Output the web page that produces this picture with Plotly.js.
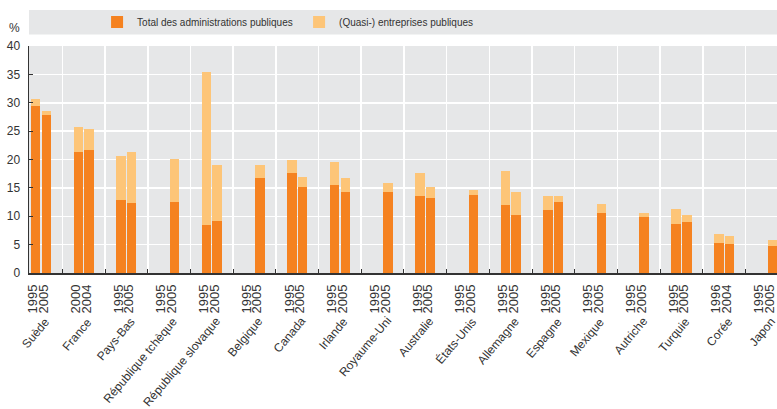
<!DOCTYPE html>
<html><head><meta charset="utf-8">
<script src="https://cdn.plot.ly/plotly-3.0.1.min.js"></script>
<style>html,body{margin:0;padding:0;background:#fff;} #chart{width:777px;height:409px;}</style>
</head><body><div id="chart"></div>
<script>
// ---- data ----
const countries = ["Suède","France","Pays-Bas","République tchèque","République slovaque","Belgique","Canada","Irlande","Royaume-Uni","Australie","États-Unis","Allemagne","Espagne","Mexique","Autriche","Turquie","Corée","Japon"];
const yearA = ["1995","2000","1995","1995","1995","1995","1995","1995","1995","1995","1995","1995","1995","1995","1995","1995","1996","1995"];
const yearB = ["2005","2004","2005","2005","2005","2005","2005","2005","2005","2005","2005","2005","2005","2005","2005","2005","2004","2005"];
// first year shown for each country
const adminA = [29.4, 21.3, 12.8, null, 8.5, null, 17.7, 15.5, null, 13.6, null, 11.9, 11.1, null, null, 8.7, 5.3, null];
const quasiA = [1.2, 4.4, 7.8, null, 27.0, null, 2.2, 4.1, null, 4.1, null, 6.0, 2.5, null, null, 2.6, 1.5, null];
// second year shown for each country
const adminB = [27.9, 21.6, 12.4, 12.6, 9.2, 16.8, 15.2, 14.3, 14.3, 13.3, 13.8, 10.2, 12.6, 10.6, 9.9, 8.9, 5.1, 4.8];
const quasiB = [0.7, 3.7, 8.9, 7.5, 9.9, 2.3, 1.8, 2.5, 1.5, 1.9, 0.8, 4.1, 1.0, 1.5, 0.7, 1.3, 1.4, 1.0];
const legendNames = ["Total des administrations publiques", "(Quasi-) entreprises publiques"];
const yTicks = [0,5,10,15,20,25,30,35,40];

// ---- style ----
const ORANGE = '#F58220', LIGHT = '#FDC578', BG = '#E6E7E8', TXT = '#333333';
const SANS = '"Liberation Sans", Arial, sans-serif';
const OFF = 0.125, BW = 0.22, LABSHIFT = 0.06;
const ML = 29, MT = 46, MB = 136, H = 409, W = 777;
const plotH = H - MB - MT, plotW = W - ML;
const pxToPaperY = py => (H - MB - py) / plotH;

const idx = countries.map((_, i) => i);
const xA = idx.map(i => i - OFF), xB = idx.map(i => i + OFF);
const xs = xA.concat(xB);
const xsLab = xs.map(v => v - LABSHIFT);
const bounds = idx.slice(0, -1).map(i => i + 0.5);
const xr = [-0.281, 17.237];
const dataToPaperX = v => (v - xr[0]) / (xr[1] - xr[0]);

const traces = [
  {type:'bar', name:legendNames[0], x:xs, y:adminA.concat(adminB), width:BW,
   marker:{color:ORANGE, line:{width:0}}, hoverinfo:'y'},
  {type:'bar', name:legendNames[1], x:xs, y:quasiA.concat(quasiB), width:BW,
   marker:{color:LIGHT, line:{width:0}}, hoverinfo:'y'},
  {type:'scatter', x:xsLab, y:xsLab.map(() => 0), xaxis:'x2', mode:'markers',
   marker:{opacity:0}, showlegend:false, hoverinfo:'skip'}
];

const annotations = [
  {text:'%', xref:'paper', yref:'paper', x:(14 - ML) / plotW, y:pxToPaperY(28),
   xanchor:'center', yanchor:'middle', showarrow:false,
   font:{family:SANS, size:12, color:TXT}}
].concat(countries.map((c, i) => ({
  text:c, xref:'paper', yref:'paper', x:dataToPaperX(i + 0.33), y:pxToPaperY(312),
  xanchor:'right', yanchor:'top', textangle:-50, showarrow:false,
  font:{family:SANS, size:12, color:TXT}
})));

const layout = {
  width:W, height:H,
  margin:{l:ML, r:0, t:MT, b:MB, pad:0},
  paper_bgcolor:'#ffffff', plot_bgcolor:BG,
  barmode:'stack', bargap:0,
  showlegend:true,
  legend:{orientation:'h', x:0.091, xanchor:'left', y:pxToPaperY(22), yanchor:'middle',
    bgcolor:'rgba(0,0,0,0)', font:{family:SANS, size:10, color:TXT},
    entrywidth:157, entrywidthmode:'pixels', traceorder:'normal'},
  xaxis:{range:xr, tickvals:bounds, showticklabels:false, ticks:'inside', ticklen:4,
    tickcolor:TXT, tickwidth:1, showgrid:true, gridcolor:'#ffffff', gridwidth:1.5,
    showline:true, linecolor:TXT, linewidth:1.5, zeroline:false, fixedrange:true},
  xaxis2:{overlaying:'x', anchor:'y', side:'bottom', range:xr, tickmode:'array',
    tickvals:xsLab, ticktext:yearA.concat(yearB), tickangle:-90, ticks:'',
    showgrid:false, showline:false, zeroline:false, fixedrange:true,
    ticklabeloverflow:'allow', ticklabelstandoff:8,
    tickfont:{family:SANS, size:13, color:TXT}},
  yaxis:{range:[0,40], tickvals:yTicks, ticks:'inside', ticklen:4, tickcolor:TXT,
    showgrid:true, gridcolor:'#ffffff', gridwidth:1.5, showline:true, linecolor:TXT,
    linewidth:1.5, zeroline:false, fixedrange:true, ticklabelstandoff:5,
    tickfont:{family:SANS, size:12, color:TXT}},
  shapes:[{type:'rect', xref:'paper', yref:'paper', x0:0, x1:1.01,
    y0:pxToPaperY(34.5), y1:pxToPaperY(10), fillcolor:BG, line:{width:0}, layer:'below'}],
  annotations:annotations
};

Plotly.newPlot('chart', traces, layout, {displayModeBar:false, staticPlot:true});
</script></body></html>
